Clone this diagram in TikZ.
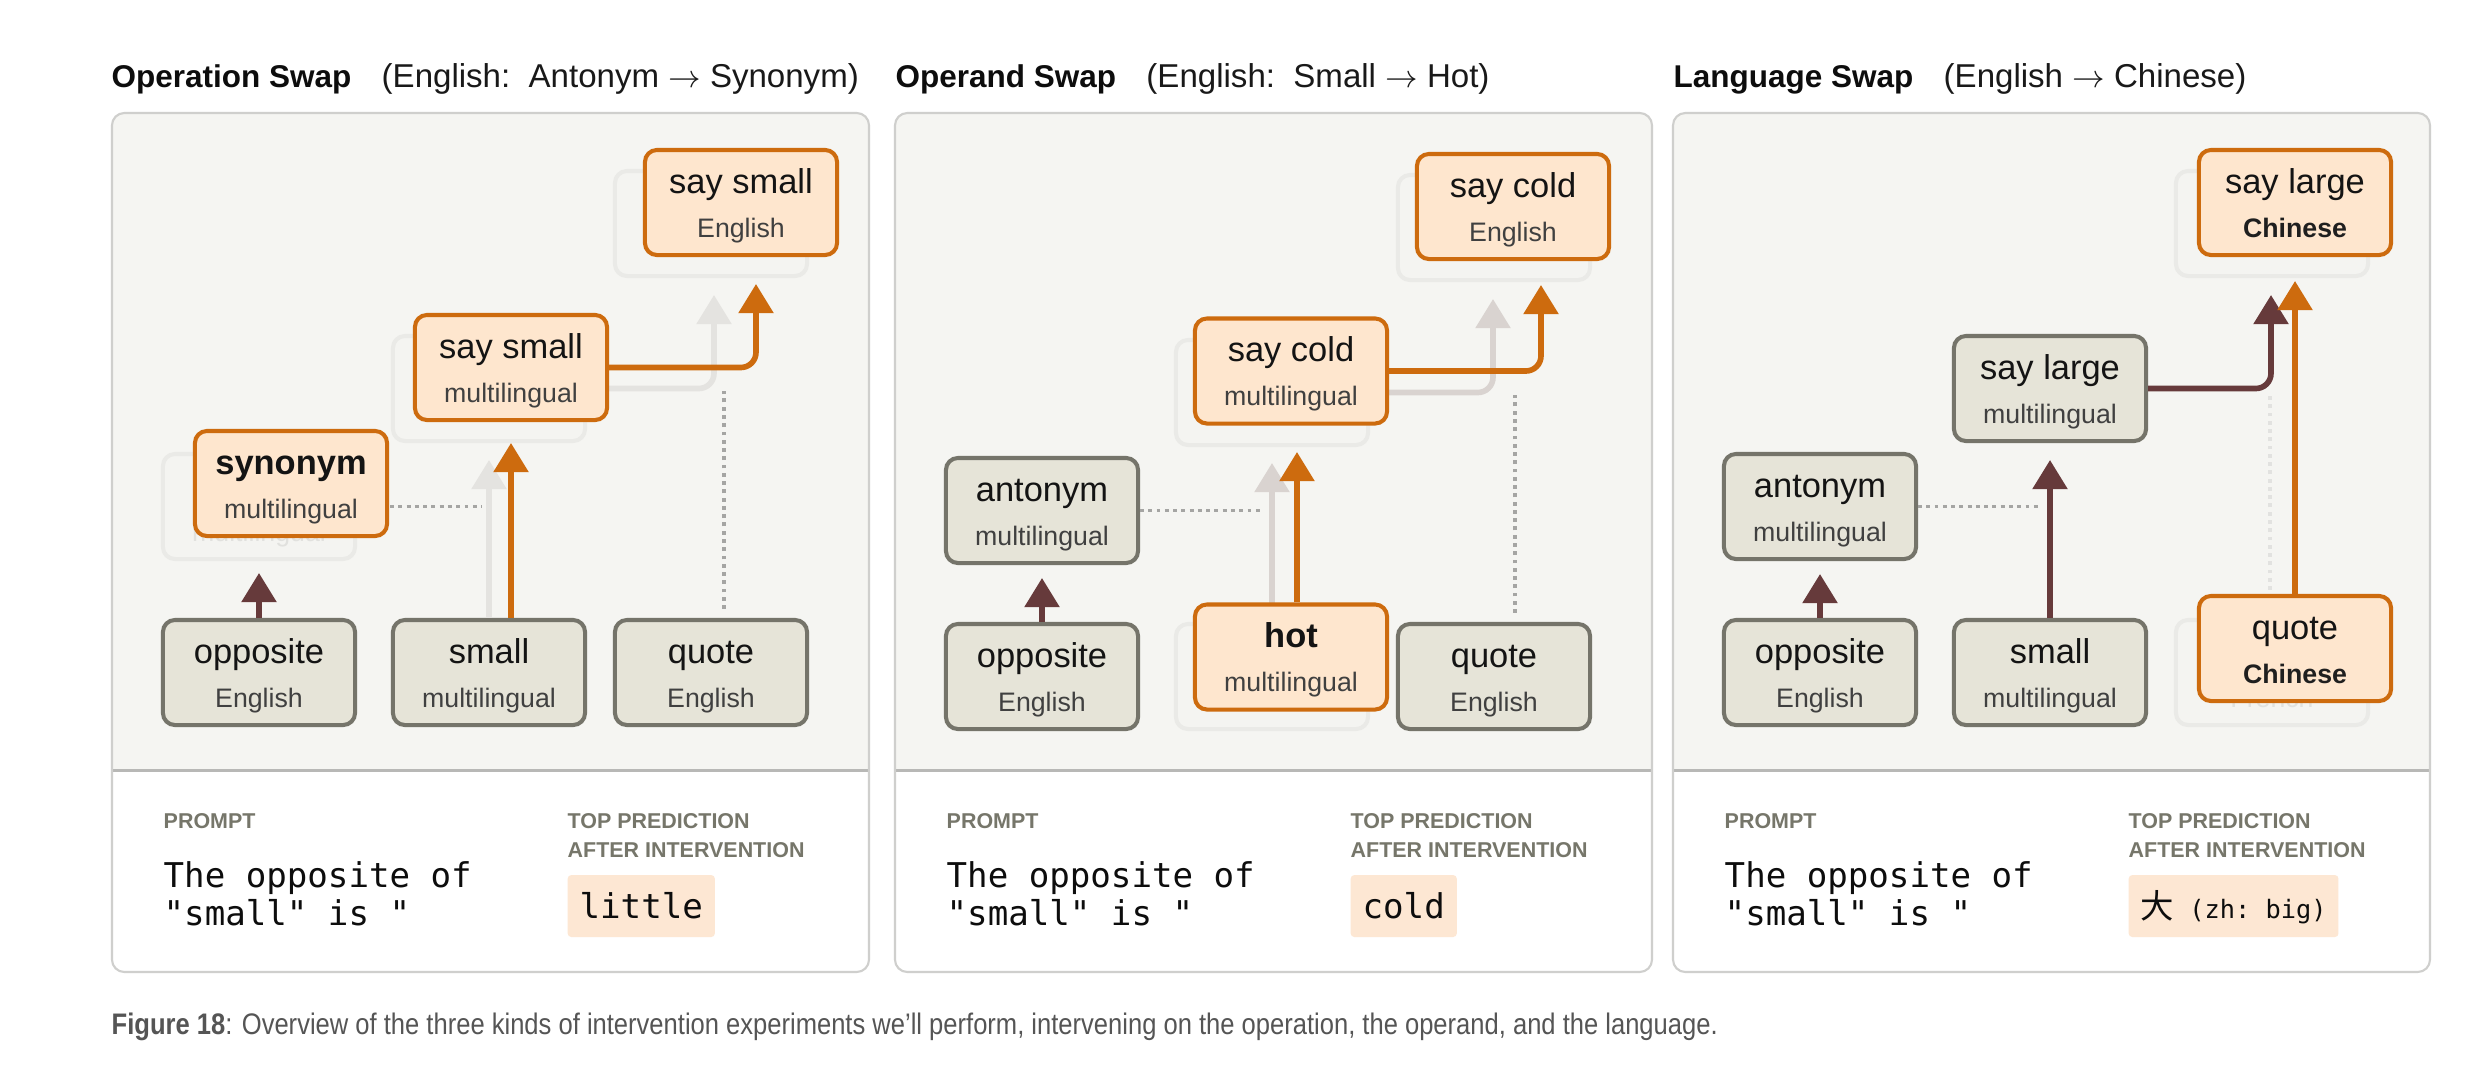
\documentclass[tikz,border=0pt]{standalone}
\usepackage{fontspec}
\setmainfont{Liberation Sans}
\setmonofont{DejaVu Sans Mono}
\newfontfamily\cjkfont{Noto Sans CJK SC}
\newfontfamily\narrowfont[FakeStretch=0.86]{Liberation Sans}
\usetikzlibrary{arrows.meta,calc}

\definecolor{panelbg}{HTML}{F5F5F2}
\definecolor{panelline}{HTML}{CFCFCD}
\definecolor{sepline}{HTML}{B8B8B6}
\definecolor{nodefill}{HTML}{E6E4D8}
\definecolor{nodeline}{HTML}{75746A}
\definecolor{orfill}{HTML}{FEE6CE}
\definecolor{orline}{HTML}{CD6B0E}
\definecolor{brownc}{HTML}{663A3B}
\definecolor{ghostline}{HTML}{EAEAE7}
\definecolor{ghostfill}{HTML}{F4F4F1}
\definecolor{ghosttext}{HTML}{E1E1DE}
\definecolor{ghostarrowA}{HTML}{E4E3E0}
\definecolor{ghostarrowB}{HTML}{D9D3D0}
\definecolor{dotc}{HTML}{A5A5A3}
\definecolor{faintdotc}{HTML}{E2E2E0}
\definecolor{subtext}{HTML}{404040}
\definecolor{lblgray}{HTML}{76766A}
\definecolor{predfill}{HTML}{FDE7D3}
\definecolor{captext}{HTML}{555555}

\newcommand\mainsz{\fontsize{9.8pt}{11pt}\selectfont}
\newcommand\subsz{\fontsize{7.6pt}{9pt}\selectfont}
\newcommand\titlesz{\fontsize{9.4pt}{11pt}\selectfont}
\newcommand\titlebsz{\fontsize{8.95pt}{11pt}\selectfont}

\newcommand\mkbox[6]{%
  \node[#2] (#1) at (#3) {};
  \node[mainlbl,#6] (#1-m) at ($(#1.center)+(0,-9.5)$) {#4};
  \node[sublbl,#6] (#1-s) at ($(#1.center)+(0,34.5)$) {#5};
}
\newcommand\mkpanel[1]{%
  \begin{scope}
    \clip[rounded corners=3.5pt] (#1,113) rectangle ++(757,859);
    \fill[white] (#1,113) rectangle ++(757,859);
    \fill[panelbg] (#1,113) rectangle ++(757,657);
  \end{scope}
  \draw[sepline, line width=0.85pt] (#1,770) -- ++(757,0);
  \draw[panelline, line width=0.6pt, rounded corners=3.5pt] (#1,113) rectangle ++(757,859);
}

\tikzset{
  nbox/.style={rectangle, rounded corners=3.4pt, minimum width=1.92cm, minimum height=1.05cm, line width=1.15pt, inner sep=0pt},
  graybox/.style={nbox, draw=nodeline, fill=nodefill},
  orbox/.style={nbox, draw=orline, fill=orfill},
  ghostbox/.style={nbox, draw=ghostline, fill=ghostfill},
  mainlbl/.style={anchor=base, inner sep=0pt, font=\mainsz, text=black!92},
  sublbl/.style={anchor=base, inner sep=0pt, font=\subsz, text=subtext},
  ghostlbl/.style={text=ghosttext},
  arr/.style={line width=1.6pt, -{Triangle[length=8.3pt,width=9.7pt]}},
  brownarr/.style={arr, color=brownc},
  orarr/.style={arr, color=orline},
  ghostarrA/.style={arr, color=ghostarrowA},
  ghostarrB/.style={arr, color=ghostarrowB},
  roundbend/.style={rounded corners=4.3pt},
  dotline/.style={draw=dotc, line width=1.1pt, dash pattern=on 1.1pt off 1.25pt},
  faintdot/.style={dotline, draw=faintdotc},
  titleb/.style={anchor=base west, inner sep=0pt, font=\titlebsz\bfseries, text=black!95},
  titler/.style={anchor=base west, inner sep=0pt, font=\titlesz, text=black!90},
  lbl/.style={anchor=base west, inner sep=0pt, font=\fontsize{6.1pt}{7pt}\selectfont\bfseries, text=lblgray},
  prompttxt/.style={anchor=base west, inner sep=0pt, font=\ttfamily\fontsize{9.7pt}{11pt}\selectfont, text=black!95},
  pred/.style={anchor=base west, fill=predfill, rounded corners=1pt, inner xsep=3.4pt, inner ysep=0pt, text height=12.2pt, text depth=5.4pt, font=\ttfamily\fontsize{9.7pt}{11pt}\selectfont, text=black!95},
}

\begin{document}
\begin{tikzpicture}[x=0.01cm,y=-0.01cm]
\fill[white] (0,0) rectangle (2490,1066);
\useasboundingbox (0,0) rectangle (2490,1066);

% ================= PANEL 1 =================
\mkpanel{112}
\node[titleb] (t1a) at (111,87) {Operation Swap};
\node[titler] (t1b) at ($(t1a.base east)+(29,0)$) {(English:\ \ Antonym $\rightarrow$ Synonym)};

\mkbox{g1syn}{ghostbox}{259,506.5}{}{multilingual}{ghostlbl}
\mkbox{g1ssm}{ghostbox}{489,388.5}{}{}{ghostlbl}
\mkbox{g1sse}{ghostbox}{711,223.5}{}{}{ghostlbl}

\mkbox{opp1}{graybox}{259,672.5}{opposite}{English}{}
\mkbox{sm1}{graybox}{489,672.5}{small}{multilingual}{}
\mkbox{q1}{graybox}{711,672.5}{quote}{English}{}

\coordinate (g1tipA) at (489,460);
\draw[ghostarrA] (sm1.north) -- (g1tipA);
\coordinate (g1tipB) at (714,295);
\draw[ghostarrA, roundbend] (g1ssm.east) -| (g1tipB);
\coordinate (d1top) at (724,391);
\draw[dotline] ($(q1.north -| d1top)+(0,-9)$) -- (d1top);
\coordinate (d1end) at (482,506.5);
\draw[dotline] (g1syn.east) -- (d1end);

\mkbox{syn1}{orbox}{291,483.5}{\bfseries synonym}{multilingual}{}
\mkbox{ssm1}{orbox}{511,367.5}{say small}{multilingual}{}
\mkbox{sse1}{orbox}{741,202.5}{say small}{English}{}

\coordinate (b1tip) at (259,573);
\draw[brownarr] (opp1.north) -- (b1tip);
\coordinate (o1tip) at (511,443);
\draw[orarr] (sm1.north -| o1tip) -- (o1tip);
\coordinate (o1tipB) at (756,284);
\draw[orarr, roundbend] (ssm1.east) -| (o1tipB);

\node[lbl] (pl1) at (163,828) {PROMPT};
\node[lbl] (tp1) at (567,828) {TOP PREDICTION};
\node[lbl] (ai1) at (567,857) {AFTER INTERVENTION};
\node[prompttxt] (pa1) at (163,887) {The opposite of};
\node[prompttxt] (pb1) at (163,925) {"small" is "};
\node[pred] (pr1) at (567,918) {little};

% ================= PANEL 2 =================
\mkpanel{895}
\node[titleb] (t2a) at (895,87) {Operand Swap};
\node[titler] (t2b) at ($(t2a.base east)+(29,0)$) {(English:\ \ Small $\rightarrow$ Hot)};

\mkbox{g2hot}{ghostbox}{1272,676.5}{}{}{ghostlbl}
\mkbox{g2scm}{ghostbox}{1272,392.5}{}{}{ghostlbl}
\mkbox{g2sce}{ghostbox}{1494,227.5}{}{}{ghostlbl}

\mkbox{opp2}{graybox}{1042,676.5}{opposite}{English}{}
\mkbox{ant2}{graybox}{1042,510.5}{antonym}{multilingual}{}
\mkbox{q2}{graybox}{1494,676.5}{quote}{English}{}

\coordinate (g2tipA) at (1272,463);
\draw[ghostarrB] (g2hot.north) -- (g2tipA);
\coordinate (g2tipB) at (1493,299);
\draw[ghostarrB, roundbend] (g2scm.east) -| (g2tipB);
\coordinate (d2top) at (1515,395);
\draw[dotline] ($(q2.north -| d2top)+(0,-9)$) -- (d2top);
\coordinate (d2end) at (1260,510.5);
\draw[dotline] (ant2.east) -- (d2end);

\mkbox{hot2}{orbox}{1291,657}{\bfseries hot}{multilingual}{}
\mkbox{scm2}{orbox}{1291,371}{say cold}{multilingual}{}
\mkbox{sce2}{orbox}{1513,206.5}{say cold}{English}{}

\coordinate (b2tip) at (1042,578);
\draw[brownarr] (opp2.north) -- (b2tip);
\coordinate (o2tip) at (1297,452);
\draw[orarr] (hot2.north -| o2tip) -- (o2tip);
\coordinate (o2tipB) at (1541,285);
\draw[orarr, roundbend] (scm2.east) -| (o2tipB);

\node[lbl] (pl2) at (946,828) {PROMPT};
\node[lbl] (tp2) at (1350,828) {TOP PREDICTION};
\node[lbl] (ai2) at (1350,857) {AFTER INTERVENTION};
\node[prompttxt] (pa2) at (946,887) {The opposite of};
\node[prompttxt] (pb2) at (946,925) {"small" is "};
\node[pred] (pr2) at (1350,918) {cold};

% ================= PANEL 3 =================
\mkpanel{1673}
\node[titleb] (t3a) at (1673,87) {Language Swap};
\node[titler] (t3b) at ($(t3a.base east)+(29,0)$) {(English $\rightarrow$ Chinese)};

\mkbox{g3sle}{ghostbox}{2272,223.5}{}{}{ghostlbl}
\mkbox{g3q}{ghostbox}{2272,672.5}{}{French}{ghostlbl}

\mkbox{opp3}{graybox}{1820,672.5}{opposite}{English}{}
\mkbox{ant3}{graybox}{1820,506.5}{antonym}{multilingual}{}
\mkbox{sm3}{graybox}{2050,672.5}{small}{multilingual}{}
\mkbox{slm3}{graybox}{2050,388.5}{say large}{multilingual}{}

\coordinate (d3top) at (2270,392);
\draw[faintdot] ($(g3q.north -| d3top)+(0,-28)$) -- (d3top);
\coordinate (d3end) at (2039,506.5);
\draw[dotline] (ant3.east) -- (d3end);

\mkbox{slc3}{orbox}{2295,202.5}{say large}{\bfseries\color{black!88}Chinese}{}
\mkbox{qc3}{orbox}{2295,648.5}{quote}{\bfseries\color{black!88}Chinese}{}

\coordinate (b3tip) at (1820,574);
\draw[brownarr] (opp3.north) -- (b3tip);
\coordinate (b3tipB) at (2050,460);
\draw[brownarr] (sm3.north) -- (b3tipB);
\coordinate (b3tipC) at (2271,295);
\draw[brownarr, roundbend] (slm3.east) -| (b3tipC);
\coordinate (o3tip) at (2295,281);
\draw[orarr] (qc3.north) -- (o3tip);

\node[lbl] (pl3) at (1724,828) {PROMPT};
\node[lbl] (tp3) at (2128,828) {TOP PREDICTION};
\node[lbl] (ai3) at (2128,857) {AFTER INTERVENTION};
\node[prompttxt] (pa3) at (1724,887) {The opposite of};
\node[prompttxt] (pb3) at (1724,925) {"small" is "};
\node[pred] (pr3) at (2128,918) {{\cjkfont\fontsize{9.5pt}{11pt}\selectfont 大}{\fontsize{7.2pt}{9pt}\selectfont\ (zh: big)}};

% ================= CAPTION =================
\node[anchor=base west, inner sep=0pt, font=\narrowfont\fontsize{8.45pt}{9pt}\selectfont, text=captext] (cap) at (111,1034) {\textbf{Figure 18}: Overview of the three kinds of intervention experiments we’ll perform, intervening on the operation, the operand, and the language.};
\end{tikzpicture}
\end{document}
